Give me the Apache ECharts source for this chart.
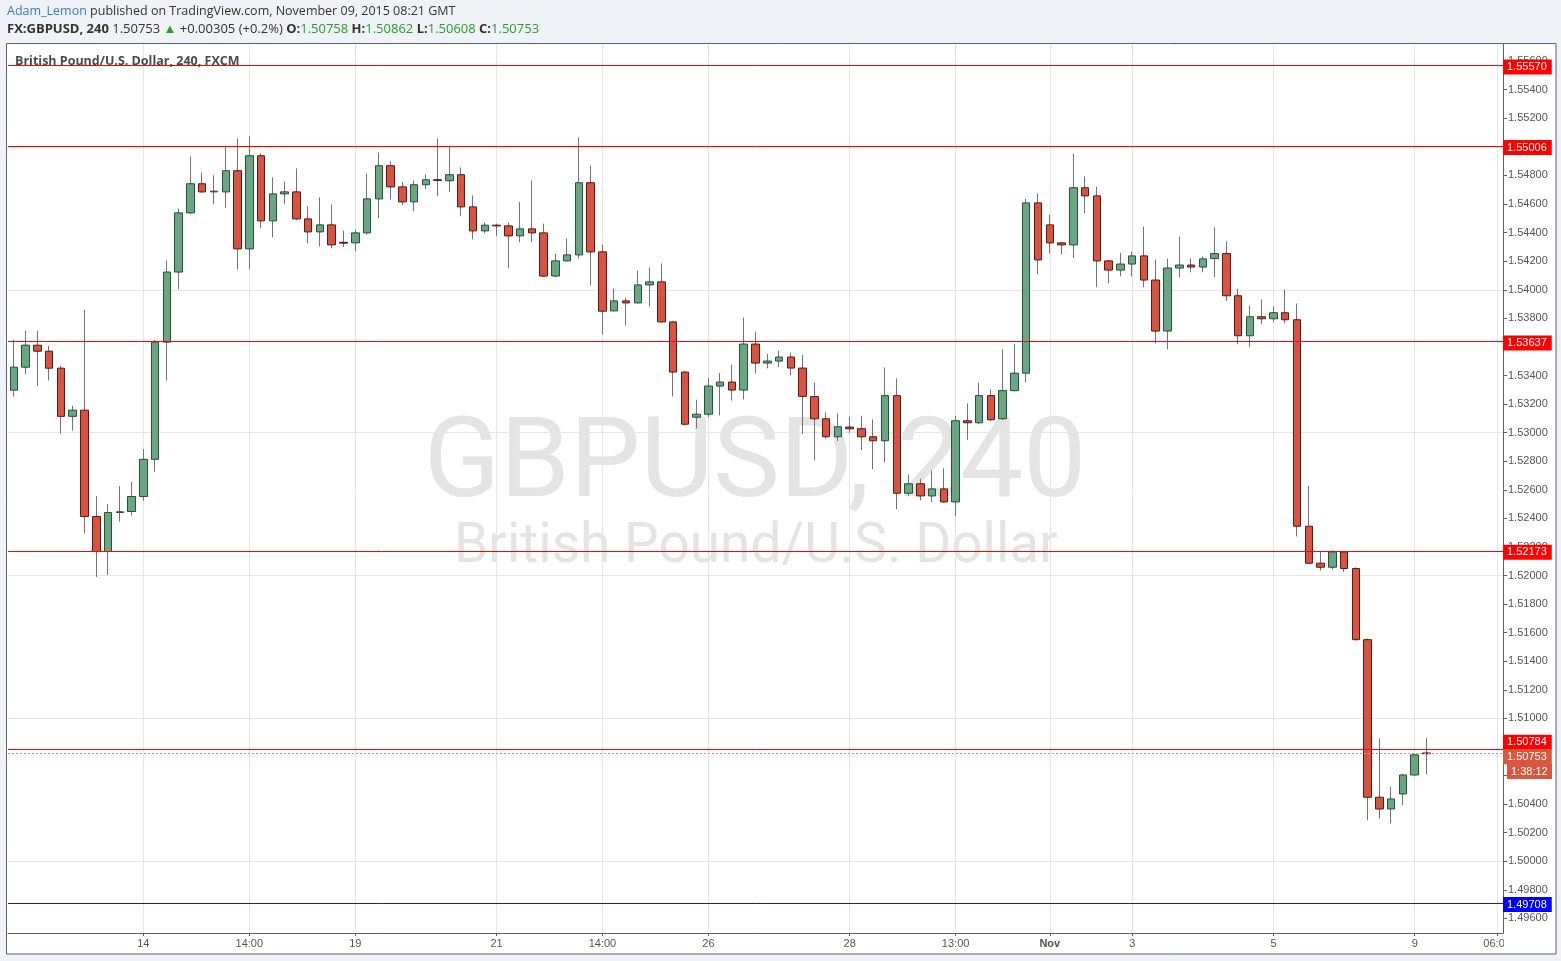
<!DOCTYPE html>
<html>
<head>
<meta charset="utf-8">
<script src="https://cdn.jsdelivr.net/npm/echarts@6/dist/echarts.min.js"></script>
<style>
html,body{margin:0;padding:0;background:#eff2f6;}
#chart{width:1561px;height:961px;}
</style>
</head>
<body>
<div id="chart"></div>
<script>
// ---- data (GBPUSD 240 min candles) ----
const opens = [
1.53297,1.53458,1.53612,1.53570,1.53451,1.53114,1.53157,1.52413,1.52168,1.52441,
1.52448,1.52553,1.52813,1.53633,1.54124,1.54538,1.54742,1.54685,1.54685,1.54833,
1.54286,1.54938,1.54482,1.54671,1.54685,1.54496,1.54405,1.54454,1.54332,1.54328,
1.54398,1.54636,1.54868,1.54720,1.54615,1.54735,1.54770,1.54763,1.54805,1.54580,
1.54412,1.54452,1.54447,1.54377,1.54426,1.54398,1.54096,1.54202,1.54244,1.54749,
1.54265,1.53852,1.53922,1.53908,1.54034,1.54055,1.53775,1.53424,1.53108,1.53129,
1.53326,1.53354,1.53298,1.53620,1.53487,1.53501,1.53529,1.53452,1.53252,1.53097,
1.52971,1.53039,1.53027,1.52971,1.52943,1.53259,1.52576,1.52642,1.52557,1.52606,
1.52515,1.53083,1.53069,1.53259,1.53097,1.53294,1.53416,1.54608,1.54454,1.54328,
1.54314,1.54714,1.54657,1.54202,1.54138,1.54180,1.54237,1.54068,1.53711,1.54152,
1.54173,1.54159,1.54218,1.54253,1.53958,1.53678,1.53811,1.53797,1.53839,1.53790,
1.52345,1.52086,1.52058,1.52165,1.52049,1.51551,1.50448,1.50366,1.50471,1.50604,
1.50758];
const highs = [
1.53650,1.53713,1.53713,1.53608,1.53467,1.53187,1.53860,1.52556,1.52500,1.52626,
1.52654,1.52885,1.53650,1.54204,1.54569,1.54933,1.54821,1.54800,1.54996,1.55059,
1.55074,1.54954,1.54786,1.54758,1.54849,1.54583,1.54646,1.54597,1.54414,1.54421,
1.54814,1.54961,1.54898,1.54753,1.54765,1.54807,1.55059,1.55006,1.54856,1.54660,
1.54470,1.54463,1.54470,1.54613,1.54765,1.54463,1.54253,1.54358,1.55067,1.54870,
1.54316,1.54008,1.53943,1.54135,1.54156,1.54184,1.53780,1.53430,1.53230,1.53384,
1.53417,1.53475,1.53805,1.53707,1.53552,1.53573,1.53559,1.53543,1.53350,1.53142,
1.53135,1.53111,1.53118,1.53093,1.53457,1.53380,1.52707,1.52679,1.52735,1.52751,
1.53118,1.53205,1.53350,1.53303,1.53584,1.53622,1.54636,1.54674,1.54526,1.54330,
1.54954,1.54793,1.54721,1.54210,1.54258,1.54267,1.54442,1.54211,1.54218,1.54372,
1.54218,1.54232,1.54437,1.54339,1.54007,1.53890,1.53932,1.53883,1.54003,1.53904,
1.52628,1.52165,1.52177,1.52165,1.52056,1.51558,1.50859,1.50522,1.50611,1.50752,
1.50862];
const lows = [
1.53252,1.53411,1.53327,1.53365,1.52993,1.53014,1.52294,1.51990,1.52004,1.52376,
1.52420,1.52523,1.52726,1.53365,1.54003,1.54530,1.54678,1.54599,1.54571,1.54143,
1.54143,1.54431,1.54368,1.54599,1.54487,1.54325,1.54304,1.54290,1.54300,1.54269,
1.54386,1.54501,1.54632,1.54592,1.54550,1.54704,1.54655,1.54683,1.54515,1.54353,
1.54396,1.54375,1.54150,1.54332,1.54332,1.54090,1.54090,1.54198,1.54218,1.54031,
1.53687,1.53850,1.53751,1.53905,1.53884,1.53770,1.53253,1.53050,1.53029,1.53108,
1.53120,1.53225,1.53232,1.53414,1.53450,1.53459,1.53400,1.52990,1.52807,1.52957,
1.52941,1.52999,1.52878,1.52744,1.52793,1.52464,1.52555,1.52527,1.52513,1.52510,
1.52415,1.52948,1.53062,1.53083,1.53090,1.53290,1.53351,1.54108,1.54255,1.54248,
1.54223,1.54536,1.54017,1.54045,1.54094,1.54094,1.54017,1.53624,1.53582,1.54087,
1.54122,1.54122,1.54089,1.53921,1.53619,1.53598,1.53759,1.53773,1.53766,1.52273,
1.52080,1.52034,1.52041,1.52026,1.51545,1.50289,1.50296,1.50265,1.50392,1.50600,
1.50608];
const closes = [
1.53458,1.53612,1.53570,1.53451,1.53114,1.53157,1.52413,1.52168,1.52441,1.52446,
1.52553,1.52813,1.53633,1.54124,1.54538,1.54742,1.54685,1.54690,1.54833,1.54286,
1.54938,1.54482,1.54671,1.54685,1.54496,1.54405,1.54454,1.54314,1.54326,1.54398,
1.54636,1.54868,1.54720,1.54615,1.54735,1.54770,1.54765,1.54805,1.54580,1.54412,
1.54452,1.54447,1.54377,1.54426,1.54398,1.54096,1.54202,1.54244,1.54749,1.54265,
1.53850,1.53922,1.53908,1.54034,1.54055,1.53775,1.53424,1.53059,1.53129,1.53326,
1.53354,1.53298,1.53620,1.53487,1.53501,1.53529,1.53452,1.53254,1.53097,1.52971,
1.53041,1.53027,1.52971,1.52943,1.53259,1.52576,1.52642,1.52557,1.52606,1.52515,
1.53083,1.53069,1.53259,1.53090,1.53294,1.53416,1.54608,1.54209,1.54328,1.54314,
1.54714,1.54657,1.54202,1.54138,1.54180,1.54237,1.54068,1.53711,1.54152,1.54173,
1.54159,1.54216,1.54253,1.53958,1.53678,1.53811,1.53797,1.53839,1.53790,1.52345,
1.52086,1.52058,1.52165,1.52049,1.51551,1.50448,1.50366,1.50436,1.50604,1.50745,
1.50753];

const slotCount = 127; // bars + empty right margin slots
const xLabelIdx = [11, 20, 29, 41, 50, 59, 71, 80, 88, 95, 107, 119, 126];
const xLabelTxt = ['14', '14:00', '19', '21', '14:00', '26', '28', '13:00', 'Nov', '3', '5', '9', '06:00'];
const priceTicks = [1.496,1.498,1.500,1.502,1.504,1.506,1.508,1.510,1.512,1.514,1.516,1.518,1.520,1.522,1.524,
  1.526,1.528,1.530,1.532,1.534,1.536,1.538,1.540,1.542,1.544,1.546,1.548,1.550,1.552,1.554,1.556];
const redLevels = [1.55570, 1.55006, 1.53637, 1.52173, 1.50784];
const blueLevels = [1.49708];
const lastPrice = 1.50753;
const countdown = '1:38:12';
const yMin = 1.49498, yMax = 1.55720;

// ---- build ----
const cats = Array.from({length: slotCount}, (_, i) => String(i));
const labelMap = {};
xLabelIdx.forEach((k, j) => { labelMap[k] = xLabelTxt[j]; });
const wickData = opens.map((o, i) => [o, closes[i], lows[i], highs[i]]);
const bodyData = opens.map((o, i) => [o, closes[i], Math.min(o, closes[i]), Math.max(o, closes[i])]);

const AX = '#5d606b';
const FONT = '"Liberation Sans", Arial, sans-serif';
const HFONT = '"Open Sans", sans-serif';
const lvlLabel = (bg, off) => ({
  show: true, position: 'end', distance: 0, color: '#fff', backgroundColor: bg,
  padding: [2, 5, 2, 4], fontSize: 11, fontFamily: FONT, offset: off || [0, 1]
});

const levelData = [];
redLevels.forEach(v => {
  levelData.push({
    yAxis: v,
    lineStyle: {color: '#ff0000', width: 1, type: 'solid'},
    label: Object.assign(lvlLabel('#ff0000', v === 1.50784 ? [0, -7] : [0, 1.5]), {formatter: v.toFixed(5)})
  });
});
blueLevels.forEach(v => {
  levelData.push({
    yAxis: v,
    lineStyle: {color: '#1a1aa0', width: 1, type: 'solid'},
    label: Object.assign(lvlLabel('#0000ff', [0, 1.5]), {formatter: v.toFixed(5)})
  });
});
levelData.push({
  yAxis: lastPrice,
  lineStyle: {color: '#e8907f', width: 1, type: [2, 2]},
  label: Object.assign(lvlLabel('#d9573f', [0, 3]), {formatter: lastPrice.toFixed(5)})
});

const chart = echarts.init(document.getElementById('chart'), null, {renderer: 'canvas'});
chart.setOption({
  animation: false,
  backgroundColor: 'transparent',
  grid: {left: 8, right: 58, top: 44, bottom: 28, containLabel: false},
  xAxis: {
    type: 'category', data: cats, boundaryGap: true, z: 3,
    axisLine: {show: true, lineStyle: {color: AX}},
    axisTick: {show: true, alignWithLabel: true, length: 3, interval: i => labelMap[i] !== undefined, lineStyle: {color: AX}},
    axisLabel: {
      interval: i => labelMap[i] !== undefined,
      formatter: (v, i) => labelMap[i] === 'Nov' ? '{b|Nov}' : (labelMap[i] || ''),
      color: '#555', fontSize: 11, fontFamily: FONT, margin: 5,
      rich: {b: {fontWeight: 'bold', color: '#555', fontSize: 11, fontFamily: FONT}}
    },
    splitLine: {show: false}
  },
  yAxis: {
    type: 'value', position: 'right', min: yMin, max: yMax, scale: true,
    axisLine: {show: true, lineStyle: {color: AX}},
    axisTick: {show: true, length: 4, customValues: priceTicks, lineStyle: {color: AX}},
    axisLabel: {customValues: priceTicks, formatter: v => v.toFixed(5), color: '#555', fontSize: 11, fontFamily: FONT, margin: 5},
    splitLine: {show: false}
  },
  graphic: [
    {type: 'rect', z: -100, shape: {x: 6.5, y: 43.5, width: 1549.5, height: 910.5}, style: {fill: '#ffffff', stroke: AX, lineWidth: 1}},
    {type: 'text', z: -50, x: 755, y: 468, style: {text: 'GBPUSD, 240', font: '112px Roboto, sans-serif', fill: '#e4e4e4', align: 'center', verticalAlign: 'middle', textAlign: 'center', textVerticalAlign: 'middle'}},
    {type: 'text', z: -50, x: 756, y: 548, style: {text: 'British Pound/U.S. Dollar', font: '55px Roboto, sans-serif', fill: '#e4e4e4', align: 'center', verticalAlign: 'middle', textAlign: 'center', textVerticalAlign: 'middle'}},
    {type: 'rect', z: 20, shape: {x: 1504, y: 934, width: 50, height: 19}, style: {fill: '#ffffff'}},
    {type: 'rect', z: 20, shape: {x: 1507, y: 764, width: 45, height: 15}, style: {fill: '#d9573f'}},
    {type: 'text', z: 21, x: 1511, y: 772, style: {text: countdown, fill: '#fff', fontSize: 11, fontFamily: FONT, verticalAlign: 'middle', textVerticalAlign: 'middle'}},
    {type: 'text', z: 20, x: 7, y: 11, style: {
      text: '{u|Adam_Lemon}{t| published on TradingView.com, November 09, 2015 08:21 GMT}',
      fontSize: 12.5, fontFamily: HFONT, verticalAlign: 'middle', textVerticalAlign: 'middle',
      rich: {u: {fill: '#3a7bc8', fontSize: 12.5, fontFamily: HFONT}, t: {fill: '#333', fontSize: 12.5, fontFamily: HFONT}}
    }},
    {type: 'text', z: 20, x: 7, y: 29, style: {
      text: '{b|FX:GBPUSD, 240} {n|1.50753} {g|▲} {n|+0.00305 (+0.2%)} {b|O:}{g|1.50758} {b|H:}{g|1.50862} {b|L:}{g|1.50608} {b|C:}{g|1.50753}',
      fontSize: 13, fontFamily: HFONT, fill: '#333', verticalAlign: 'middle', textVerticalAlign: 'middle',
      rich: {
        b: {fill: '#333', fontWeight: 'bold', fontSize: 13, fontFamily: HFONT},
        n: {fill: '#333', fontSize: 13, fontFamily: HFONT},
        g: {fill: '#2a9d2a', fontSize: 13, fontFamily: HFONT}
      }
    }},
    {type: 'text', z: 20, x: 15, y: 61, style: {
      text: 'British Pound/U.S. Dollar, 240, FXCM', fill: '#4a4a4a', fontWeight: 'bold', fontSize: 12.5, fontFamily: HFONT,
      font: 'bold 12.5px "Open Sans", sans-serif', verticalAlign: 'middle', textVerticalAlign: 'middle'
    }}
  ],
  series: [
    {
      type: 'line', data: [], silent: true, z: 1,
      markLine: {
        silent: true, z: 1, symbol: ['none', 'none'], animation: false,
        label: {show: false},
        lineStyle: {color: '#e6e6e6', width: 1, type: 'solid'},
        data: [
          ...xLabelIdx.map(i => ({xAxis: cats[i]})),
          ...priceTicks.map(v => ({yAxis: v}))
        ]
      }
    },
    {
      type: 'candlestick', name: 'wick', data: wickData, barWidth: 2, z: 3, silent: true,
      itemStyle: {color: '#737375', color0: '#737375', borderColor: '#737375', borderColor0: '#737375', borderWidth: 1}
    },
    {
      type: 'candlestick', name: 'body', data: bodyData, barWidth: 8, z: 4, silent: true,
      itemStyle: {color: '#6ba583', color0: '#d75442', borderColor: '#225437', borderColor0: '#5b1a13', borderWidth: 1}
    },
    {
      type: 'line', data: [], silent: true, z: 6,
      markLine: {silent: true, z: 6, symbol: ['none', 'none'], animation: false, precision: 5, data: levelData}
    }
  ]
});
</script>
</body>
</html>
